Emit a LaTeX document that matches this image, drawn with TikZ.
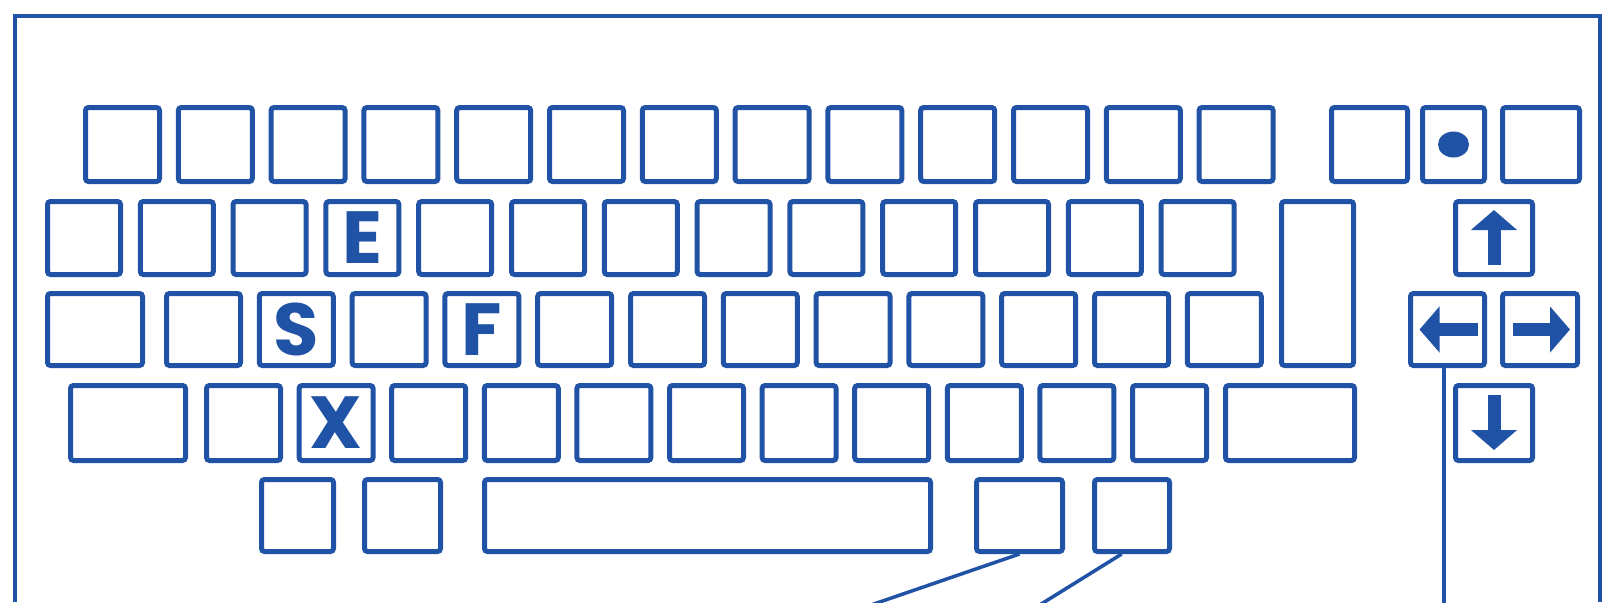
\documentclass[tikz,border=0pt]{standalone}
\usepackage{fontspec}
\newfontfamily\keyfont{Poppins}
\usetikzlibrary{arrows.meta}
\definecolor{kbblue}{RGB}{32,82,165}
\newlength{\kpx}
\setlength{\kpx}{0.2mm}
\tikzset{
  keybox/.style 2 args={draw=kbblue, line width=5\kpx, rounded corners=3\kpx, inner sep=0pt,
    minimum width={(#1-5)*\kpx}, minimum height={(#2-5)*\kpx}},
  keyletter/.style={text=kbblue, inner sep=0pt, font=\keyfont\bfseries\fontsize{42}{42}\selectfont},
  keyarrow/.style={draw=kbblue, line width=2.6mm, -{Triangle[width=9mm,length=4mm]}},
  leader/.style={draw=kbblue, line width=3.5\kpx}
}

\begin{document}
\begin{tikzpicture}[x=0.2mm, y=-0.2mm]
  \useasboundingbox (0,0) rectangle (1605,602);
  \draw[kbblue, line width=4.5\kpx] (15,602) -- (15,16) -- (1600,16) -- (1600,602);
  % row 1
  \foreach \i in {0,...,12}
    \node[keybox={79}{79}] (ra\i) at ({122.5+92.8*\i},144.5) {};
  \node[keybox={81}{79}] (kesc) at (1369.5,144.5) {};
  \node[keybox={67}{79}] (kdot) at (1453.5,144.5) {};
  \node[keybox={82}{79}] (kclr) at (1541,144.5) {};
  \fill[kbblue] (kdot.center) ellipse [x radius=3.1mm, y radius=2.6mm];
  % row 2
  \foreach \i in {0,...,12}
    \node[keybox={78}{78}] (rb\i) at ({84+92.8*\i},238) {};
  \node[keybox={77}{169}] (kret) at (1317.5,283.5) {};
  \node[keybox={82}{78}] (kup) at (1494,238) {};
  % row 3
  \node[keybox={100}{77}] (rc0) at (95,329.5) {};
  \foreach \i in {1,...,12}
    \node[keybox={79}{77}] (rc\i) at ({203.5+92.8*(\i-1)},329.5) {};
  \node[keybox={79}{77}] (kleft) at (1447.5,329.5) {};
  \node[keybox={80}{77}] (kright) at (1540,329.5) {};
  % row 4
  \node[keybox={120}{80}] (rd0) at (128,423) {};
  \foreach \i in {1,...,11}
    \node[keybox={79}{80}] (rd\i) at ({243.5+92.6*(\i-1)},423) {};
  \node[keybox={134}{80}] (rd12) at (1290,423) {};
  \node[keybox={82}{80}] (kdown) at (1494,423) {};
  % row 5
  \node[keybox={77}{77}] (re0) at (297.5,515.5) {};
  \node[keybox={81}{77}] (re1) at (402.5,515.5) {};
  \node[keybox={451}{77}] (re2) at (707.5,515.5) {};
  \node[keybox={91}{77}] (re3) at (1019.5,515.5) {};
  \node[keybox={80}{77}] (re4) at (1132,515.5) {};

  \node[keyletter] (lE) at (rb3) {E};
  \node[keyletter] (lS) at (rc2) {S};
  \node[keyletter] (lF) at (rc4) {F};
  \node[keyletter] (lX) at (rd2) {X};

  \draw[keyarrow] ([shift={(0,27)}]kup.center) -- ([shift={(0,-28)}]kup.center);
  \draw[keyarrow] ([shift={(30,0)}]kleft.center) -- ([shift={(-28,0)}]kleft.center);
  \draw[keyarrow] ([shift={(-27,0)}]kright.center) -- ([shift={(30,0)}]kright.center);
  \draw[keyarrow] ([shift={(0,-28)}]kdown.center) -- ([shift={(0,27)}]kdown.center);

  \coordinate (endA) at (868,606);
  \coordinate (endB) at (1038,606);
  \coordinate (base) at (0,606);
  \draw[leader] (re3.south) -- (endA);
  \draw[leader] (re4.255) -- (endB);
  \draw[leader] (kleft.265) -- (kleft.265 |- base);
\end{tikzpicture}
\end{document}
